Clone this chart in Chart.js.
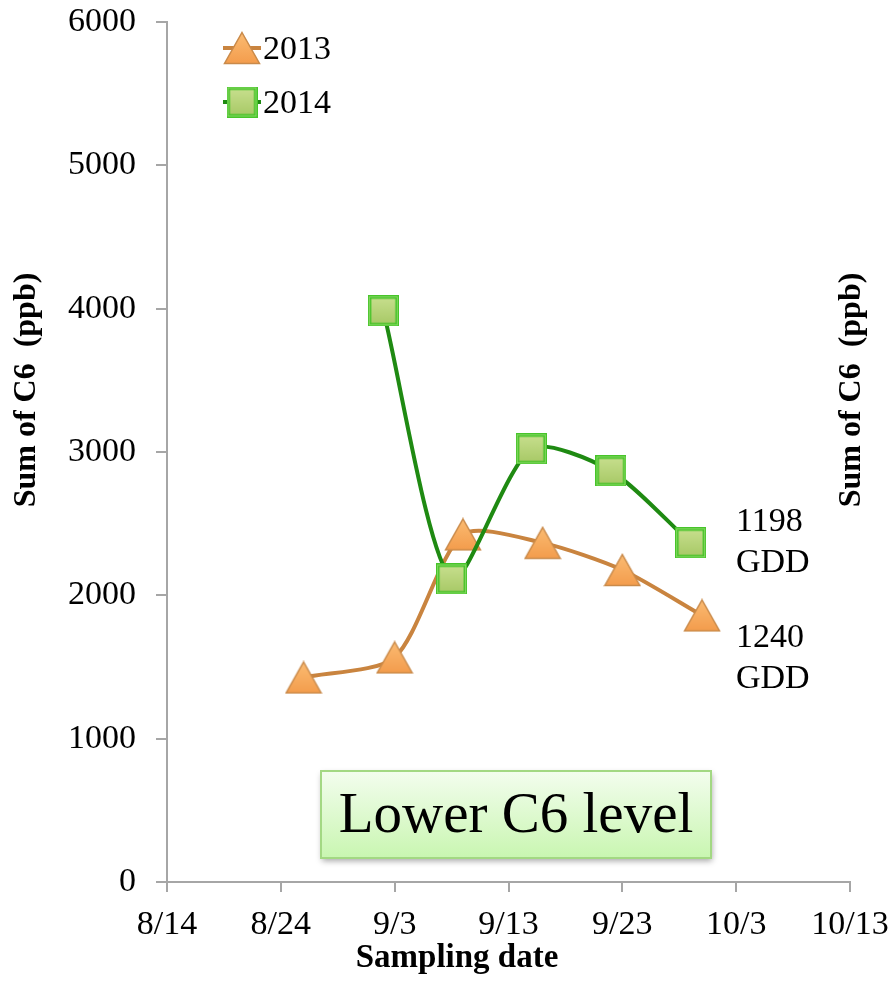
<!DOCTYPE html>
<html>
<head>
<meta charset="utf-8">
<script src="https://cdn.jsdelivr.net/npm/chart.js@4"></script>
<style>
  html, body { margin: 0; padding: 0; background: #fff; }
  #wrap { width: 892px; height: 1003px; }
</style>
</head>
<body>
<div id="wrap"><canvas id="myChart" width="892" height="1003"></canvas></div>
<script>
(() => {
  'use strict'

  // data
  const dates2013 = ['8/26', '9/3', '9/9', '9/16', '9/23', '9/30']
  const values2013 = [1427, 1567, 2425, 2366, 2177, 1860]
  const dates2014 = ['9/2', '9/8', '9/15', '9/22', '9/29']
  const values2014 = [3985, 2114, 3022, 2868, 2366]
  const seriesNames = ['2013', '2014']
  const gddLabels = [['1198', 'GDD'], ['1240', 'GDD']]
  const startDate = '8/14'   // first x tick, ticks every 10 days
  const yTitle = 'Sum of C6  (ppb)'
  const xTitle = 'Sampling date'
  const boxText = 'Lower C6 level'

  const FONT = '"Liberation Serif", "Times New Roman", serif'

  const toDate = s => {
    const [m, d] = s.split('/').map(Number)
    return new Date(2000, m - 1, d)
  }
  const base = toDate(startDate)
  const toDay = s => Math.round((toDate(s) - base) / 864e5)
  const fmtDay = v => {
    const d = new Date(2000, base.getMonth(), base.getDate() + v)
    return (d.getMonth() + 1) + '/' + d.getDate()
  }

  // marker images
  function triangleImg() {
    const c = document.createElement('canvas')
    c.width = 38; c.height = 34
    const g = c.getContext('2d')
    const grad = g.createLinearGradient(0, 0, 0, 34)
    grad.addColorStop(0, '#fbbd74')
    grad.addColorStop(1, '#f39b4b')
    g.beginPath()
    g.moveTo(19, 1.5); g.lineTo(36.5, 32.5); g.lineTo(1.5, 32.5); g.closePath()
    g.fillStyle = grad
    g.fill()
    g.lineWidth = 1.5
    g.strokeStyle = '#c98a4a'
    g.stroke()
    return c
  }
  function squareImg() {
    const c = document.createElement('canvas')
    c.width = 31; c.height = 31
    const g = c.getContext('2d')
    g.fillStyle = '#47c42a'
    g.fillRect(0, 0, 31, 31)
    const grad = g.createLinearGradient(0, 3, 0, 28)
    grad.addColorStop(0, '#c6de8c')
    grad.addColorStop(1, '#a9ca68')
    g.fillStyle = grad
    g.fillRect(3.5, 3.5, 24, 24)
    g.strokeStyle = '#86d862'
    g.lineWidth = 1
    g.strokeRect(1.5, 1.5, 28, 28)
    return c
  }
  const tri = triangleImg()
  const sq = squareImg()

  const overlay = {
    id: 'overlay',
    afterDraw(chart) {
      const ctx = chart.ctx
      const y = chart.scales.y
      ctx.save()

      // axis titles
      ctx.fillStyle = '#000'
      ctx.font = 'bold 32px ' + FONT
      ctx.textAlign = 'center'
      ctx.textBaseline = 'middle'
      const drawV = (cx, cy) => {
        ctx.save()
        ctx.translate(cx, cy)
        ctx.rotate(-Math.PI / 2)
        ctx.fillText(yTitle, 0, 0)
        ctx.restore()
      }
      drawV(27, 390)
      drawV(852, 390)
      ctx.font = 'bold 33px ' + FONT
      ctx.fillText(xTitle, 457, 958)

      // legend
      chart.data.datasets.forEach((ds, i) => {
        const ly = 48 + i * 54
        ctx.strokeStyle = ds.borderColor
        ctx.lineWidth = 4
        ctx.beginPath()
        ctx.moveTo(223, ly); ctx.lineTo(261, ly)
        ctx.stroke()
        const img = ds.pointStyle
        ctx.drawImage(img, 242 - img.width / 2, ly - img.height / 2)
        ctx.fillStyle = '#000'
        ctx.font = '34px ' + FONT
        ctx.textAlign = 'left'
        ctx.fillText(ds.label, 263, ly + 2)
      })

      // GDD labels at the end of each series
      ctx.font = '34px ' + FONT
      ctx.textAlign = 'left'
      const end14 = y.getPixelForValue(values2014[values2014.length - 1])
      const end13 = y.getPixelForValue(values2013[values2013.length - 1])
      gddLabels.forEach((lines, i) => {
        const ty = i === 0 ? end14 - 21 : end13 + 23
        lines.forEach((t, k) => ctx.fillText(t, 736, ty + k * 41))
      })

      // annotation box
      const bx = 321, by = 771, bw = 390, bh = 87
      ctx.save()
      ctx.shadowColor = 'rgba(0,0,0,0.35)'
      ctx.shadowBlur = 6
      ctx.shadowOffsetX = 1
      ctx.shadowOffsetY = 3
      const bg = ctx.createLinearGradient(0, by, 0, by + bh)
      bg.addColorStop(0, '#f3fdee')
      bg.addColorStop(1, '#c9f6b1')
      ctx.fillStyle = bg
      ctx.fillRect(bx, by, bw, bh)
      ctx.restore()
      ctx.strokeStyle = '#a3d883'
      ctx.lineWidth = 2
      ctx.strokeRect(bx, by, bw, bh)
      ctx.fillStyle = '#000'
      ctx.font = '57px ' + FONT
      ctx.textAlign = 'center'
      ctx.fillText(boxText, bx + bw / 2, by + bh / 2 + 3)

      ctx.restore()
    }
  }

  const ctx = document.getElementById('myChart')
  // eslint-disable-next-line no-unused-vars
  const myChart = new Chart(ctx, {
    type: 'line',
    data: {
      datasets: [{
        label: seriesNames[0],
        data: dates2013.map((d, i) => ({ x: toDay(d), y: values2013[i] })),
        borderColor: '#c9843f',
        borderWidth: 4,
        tension: 0.25,
        pointStyle: tri,
        pointRadius: 18,
        order: 2
      }, {
        label: seriesNames[1],
        data: dates2014.map((d, i) => ({ x: toDay(d), y: values2014[i] })),
        borderColor: '#1f8a12',
        borderWidth: 4,
        tension: 0.25,
        pointStyle: sq,
        pointRadius: 16,
        order: 1
      }]
    },
    options: {
      responsive: false,
      animation: false,
      layout: { padding: { top: 22, right: 42, left: 0, bottom: 0 } },
      plugins: {
        legend: { display: false },
        tooltip: { enabled: false }
      },
      scales: {
        x: {
          type: 'linear',
          min: 0,
          max: 60,
          afterFit: s => { s.height = 121; s.paddingLeft = 0; s.paddingRight = 0 },
          border: { color: '#a6a6a6', width: 2 },
          grid: { drawOnChartArea: false, tickLength: 10, color: '#a6a6a6', lineWidth: 2 },
          ticks: {
            stepSize: 10,
            padding: 13,
            color: '#000',
            maxRotation: 0,
            font: { family: FONT, size: 34 },
            callback: v => fmtDay(v)
          }
        },
        y: {
          min: 0,
          max: 6000,
          afterFit: s => { s.width = 167; s.paddingTop = 0; s.paddingBottom = 0 },
          border: { color: '#a6a6a6', width: 2 },
          grid: { drawOnChartArea: false, tickLength: 11, color: '#a6a6a6', lineWidth: 2 },
          ticks: {
            stepSize: 1000,
            padding: 20,
            color: '#000',
            font: { family: FONT, size: 34 },
            callback: v => String(v)
          }
        }
      }
    },
    plugins: [overlay]
  })
})()
</script>
</body>
</html>
